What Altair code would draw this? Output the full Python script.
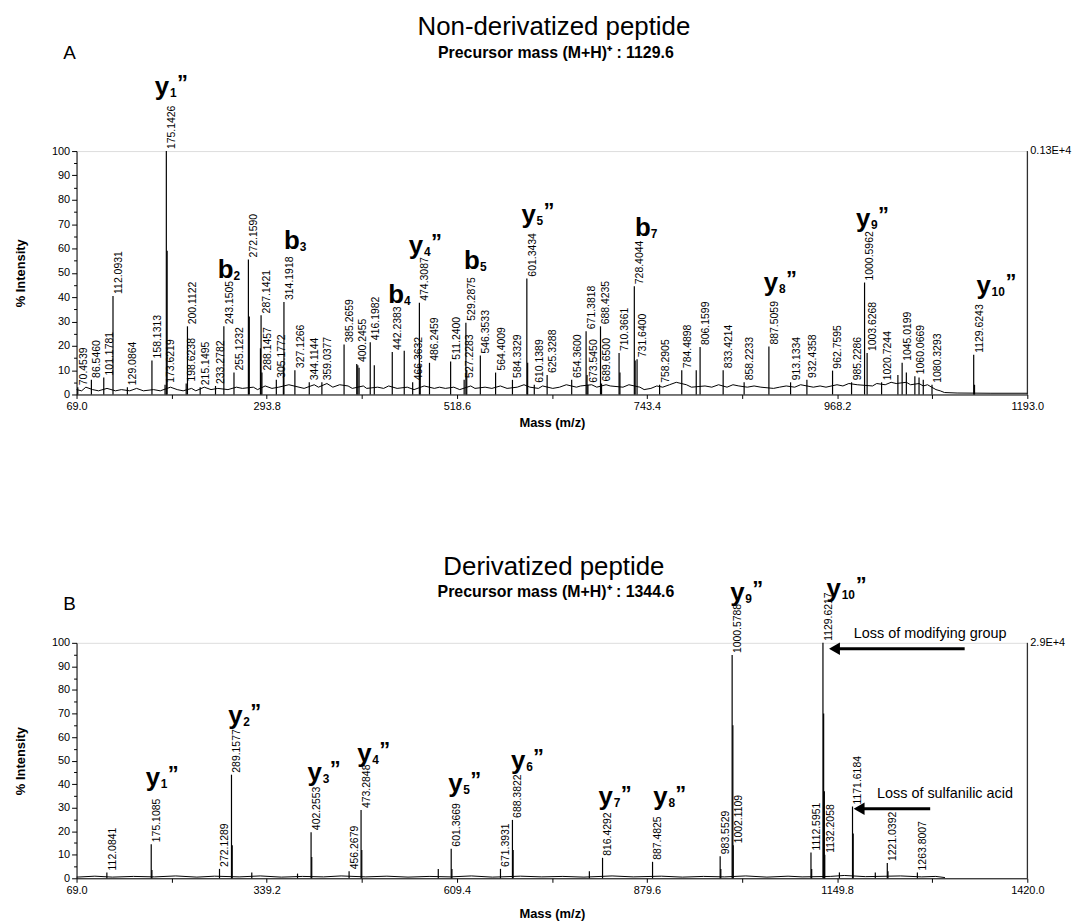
import altair as alt
import pandas as pd

FONT = "Liberation Sans"

# ---------------- Panel A (non-derivatized) ----------------
a_mass = [70.4539, 86.5460, 101.1781, 112.0931, 129.0864, 158.1313, 173.6219, 175.1426, 198.6238, 200.1122,
          215.1495, 233.2782, 243.1505, 255.1232, 272.1590, 287.1421, 288.1457, 305.1772, 314.1918, 327.1266,
          344.1144, 359.0377, 385.2659, 400.2455, 416.1982, 442.2383, 466.3632, 474.3087, 486.2459, 511.2400,
          527.2283, 529.2875, 546.3533, 564.4009, 584.3329, 601.3434, 610.1389, 625.3288, 654.3600, 671.3818,
          673.5450, 688.4235, 689.6500, 710.3661, 728.4044, 731.6400, 758.2905, 784.4898, 806.1599, 833.4214,
          858.2233, 887.5059, 913.1334, 932.4358, 962.7595, 985.2286, 1000.5962, 1003.6268, 1020.7244, 1045.0199,
          1060.0669, 1080.3293, 1129.6243]
a_int = [3, 6, 7, 40.5, 3, 14, 4, 100, 4.5, 28,
         3, 3.5, 28, 9, 55.5, 32.5, 9, 6, 38, 10,
         5, 5, 20.5, 12.5, 21.5, 17.5, 5, 37.7, 13, 13.5,
         6, 29.5, 16, 9, 6, 47.6, 4, 8, 6, 26,
         4, 28, 4.5, 17, 44.5, 14.5, 4, 10, 19.5, 10,
         5, 19.7, 5, 6, 9.8, 5, 46, 17, 5, 13,
         7.5, 4, 16.3]
a_extra_mass = [176.1, 273.2, 286.4, 313.5, 401.5, 403.0, 421.0, 456.4, 475.3, 530.3, 602.3, 672.5, 711.4,
                729.4, 801.6, 1040.0, 1050.0, 1065.0, 1070.0, 1130.6]
a_extra_int = [59, 32, 19, 12, 12, 11, 12, 18, 12, 10, 13, 8, 9, 14, 10, 8, 9, 7, 6, 4]
a_noise_mass = [69, 75, 80, 88, 95, 105, 115, 122, 132, 140, 148, 160, 168, 180, 188, 195, 205, 210, 220, 228,
                236, 248, 258, 265, 278, 283, 292, 300, 308, 320, 332, 338, 350, 355, 365, 372, 380, 390, 395,
                408, 412, 425, 432, 438, 448, 460, 468, 480, 492, 498, 505, 515, 522, 535, 540, 552, 560, 570,
                578, 590, 598, 605, 615, 620, 632, 640, 648, 660, 665, 678, 684, 695, 700, 715, 722, 735, 740,
                748, 755, 762, 770, 778, 790, 796, 812, 820, 828, 838, 845, 852, 862, 870, 878, 893, 900, 908,
                918, 925, 940, 948, 955, 968, 975, 982, 992, 1010, 1015, 1025, 1032, 1038, 1050, 1055, 1065,
                1070, 1075, 1080, 1085, 1090, 1095, 1110, 1150, 1193]
a_noise_int = [2, 1.5, 3, 2, 1.5, 2.5, 1.5, 2, 1.5, 2.5, 1.5, 2, 1.5, 3, 2, 1.5, 2.5, 1.5, 3, 2,
               2.5, 2, 3, 2.5, 3, 2, 3.5, 2.5, 3, 4, 3, 2.5, 4, 3, 4.5, 3, 4, 3.5, 2.5,
               3.5, 2.5, 3, 2.5, 3.5, 2.5, 3, 2, 3.5, 2.5, 3, 2.5, 3, 2, 3.5, 2.5, 3, 2.5, 3.5,
               2.5, 3, 4, 3, 2.5, 3.5, 2.5, 3, 4, 3, 3.5, 4, 3, 4, 3.5, 3, 4, 3, 2,
               2.5, 3.5, 3, 4, 5, 4, 3, 3.5, 3, 4, 3, 4, 3.5, 3, 3.5, 3, 2.5, 3, 3.5,
               3, 4, 3, 3.5, 3, 4, 3.5, 4.5, 4, 3.5, 4.5, 4, 5, 4.5, 5, 4, 4.5,
               3.5, 4, 3, 2, 1.5, 0.8, 0.6, 0.5, 0.5]
a_ion_letter = ["y", "b", "b", "b", "y", "b", "y", "b", "y", "y", "y"]
a_ion_sub = ["1", "2", "3", "4", "4", "5", "5", "7", "8", "9", "10"]
a_ion_mass = [170.0, 245.2, 323.5, 446.8, 470.3, 536.5, 603.4, 738.5, 890.0, 998.9, 1141.4]
a_ion_int = [126.5, 51.0, 62.9, 40.9, 60.8, 54.7, 73.6, 68.2, 45.7, 72.2, 44.5]

# ---------------- Panel B (derivatized) ----------------
b_mass = [112.0841, 175.1085, 272.1289, 289.1577, 402.2553, 456.2679, 473.2848, 601.3669, 671.3931, 688.3822,
          816.4292, 887.4825, 983.5529, 1000.5788, 1002.1109, 1112.5951, 1129.6217, 1132.2058, 1171.6184,
          1221.0392, 1263.8007]
b_int = [2.5, 14.5, 4, 44, 19.6, 3, 29, 12.6, 4, 24.8,
         8.7, 7, 9.4, 94.8, 14, 11, 100, 10, 30.5,
         6.5, 2.5]
b_extra_mass = [176.1, 290.2, 318.0, 383.0, 403.2, 474.3, 583.0, 602.4, 689.4, 797.7, 984.5, 1001.6, 1113.6,
                1130.6, 1131.6, 1172.6, 1153.0, 1204.0, 1222.0]
b_extra_int = [3.5, 14, 2.5, 2, 9, 12, 4, 4, 12, 3, 4, 65, 4, 70, 37, 19, 2.5, 2.5, 3]
b_noise_mass = [69, 95, 120, 150, 180, 210, 240, 265, 300, 330, 360, 390, 420, 445, 480, 510, 540, 570, 600,
                630, 660, 700, 730, 760, 790, 830, 860, 900, 930, 960, 990, 1020, 1050, 1080, 1100, 1140,
                1160, 1190, 1240, 1270, 1290, 1303]
b_noise_int = [0.5, 0.9, 0.5, 0.8, 0.6, 1.0, 0.5, 0.9, 0.6, 1.0, 0.5, 0.8, 0.6, 1.0, 0.6, 0.9, 0.5, 0.8, 0.6,
               1.0, 0.5, 0.9, 0.6, 0.8, 0.5, 1.0, 0.6, 0.9, 0.5, 0.8, 0.6, 1.0, 0.5, 0.9, 0.6, 0.8,
               1.2, 0.7, 1.0, 0.6, 0.8, 0.3]
b_ion_letter = ["y"] * 10
b_ion_sub = ["1", "2", "3", "4", "5", "6", "7", "8", "9", "10"]
b_ion_mass = [177.5, 294.6, 407.5, 478.0, 607.3, 696.6, 821.0, 898.7, 1008.0, 1145.0]
b_ion_int = [42.7, 68.8, 44.9, 52.7, 40.0, 49.8, 34.3, 34.3, 121.0, 123.0]

b_note_text = ["Loss of modifying group", "Loss of sulfanilic acid"]
b_note_mass = [1282, 1303]
b_note_int = [103.8, 35.9]
b_arrow_from = [1331, 1282]
b_arrow_to = [1146, 1181]
b_arrow_int = [97.5, 29.5]

W = 957


def panel(mass, inten, xm, xi, nm, ni, il, isub, imass, iint, xmin, xmax, step, height,
          title, subtitle, letter, scale_txt, title_y, sub_y, letter_y, xtitle_pad, notes=None):
    xscale = alt.Scale(domain=[xmin, xmax], nice=False, zero=False)
    yscale = alt.Scale(domain=[0, 100], nice=False)
    xticks = [round(xmin + k * step / 2, 1) for k in range(11)]
    xaxis = alt.Axis(values=xticks, format=".1f",
                     labelExpr=f"abs((datum.value - {xmin}) / {step} - round((datum.value - {xmin}) / {step})) < 0.01 ? datum.label : ''",
                     labelOverlap=False, labelFlush=False, tickSize=4, labelPadding=2,
                     labelFontSize=11, titleFontSize=13, titleFontWeight="bold", titlePadding=xtitle_pad,
                     domainColor="black", tickColor="black", labelColor="black", grid=False)
    yaxis = alt.Axis(values=list(range(0, 101, 5)), format="d",
                     labelExpr="datum.value % 10 === 0 ? datum.label : ''",
                     tickSize={"condition": {"test": "datum.value % 10 === 0", "value": 5}, "value": 3},
                     labelPadding=2, labelFontSize=11, titleFontSize=13, titleFontWeight="bold",
                     titlePadding=24, domainColor="black", tickColor="black", labelColor="black",
                     grid=False, labelOverlap=False)

    def X(f):
        return alt.X(f, scale=xscale, axis=xaxis, title="Mass (m/z)")

    def Y(f):
        return alt.Y(f, scale=yscale, axis=yaxis, title="% Intensity")

    peaks = pd.DataFrame({"m": mass, "i": inten, "lab": [f"{v:.4f}" for v in mass]})
    peaks["z"] = 0
    extra = pd.DataFrame({"m": xm, "i": xi})
    extra["z"] = 0
    noise = pd.DataFrame({"m": nm, "i": ni})
    ions = pd.DataFrame({"m": imass, "i": iint, "let": il, "sub": isub,
                         "q": ["\u201d" if l == "y" else "" for l in il],
                         "n": [len(s) for s in isub]})
    fr = pd.DataFrame({"m": [xmax], "i": [100], "z": [0], "t": [scale_txt]})

    base = alt.Chart(noise).mark_line(color="black", strokeWidth=1).encode(x=X("m:Q"), y=Y("i:Q"))
    rules = alt.Chart(peaks).mark_rule(color="black", strokeWidth=1.2).encode(
        x=X("m:Q"), y=Y("i:Q"), y2="z:Q")
    rules2 = alt.Chart(extra).mark_rule(color="black", strokeWidth=1.2).encode(
        x=X("m:Q"), y=Y("i:Q"), y2="z:Q")
    labels = alt.Chart(peaks).mark_text(angle=270, align="left", baseline="top", dx=2, dy=1,
                                        fontSize=10.5, font=FONT, color="black").encode(
        x=X("m:Q"), y=Y("i:Q"), text="lab:N")
    let = alt.Chart(ions).mark_text(fontSize=26, fontWeight="bold", font=FONT, align="center",
                                    baseline="middle", color="black").encode(
        x=X("m:Q"), y=Y("i:Q"), text="let:N")
    sub = alt.Chart(ions).mark_text(fontSize=12, fontWeight="bold", font=FONT, align="left",
                                    baseline="middle", dx=8, dy=6, color="black").encode(
        x=X("m:Q"), y=Y("i:Q"), text="sub:N")
    q1 = alt.Chart(ions).transform_filter("datum.n == 1").mark_text(
        fontSize=22, fontWeight="bold", font=FONT, align="left", baseline="middle", dx=15, dy=-4,
        color="black").encode(x=X("m:Q"), y=Y("i:Q"), text="q:N")
    q2 = alt.Chart(ions).transform_filter("datum.n == 2").mark_text(
        fontSize=22, fontWeight="bold", font=FONT, align="left", baseline="middle", dx=22, dy=-4,
        color="black").encode(x=X("m:Q"), y=Y("i:Q"), text="q:N")

    frame = alt.Chart(fr).mark_rule(color="black", strokeWidth=1).encode(
        x=X("m:Q"), y=Y("i:Q"), y2="z:Q")
    frame_txt = alt.Chart(fr).mark_text(align="left", baseline="middle", dx=3, fontSize=11,
                                        font=FONT, color="black").encode(
        x=X("m:Q"), y=Y("i:Q"), text="t:N")
    one = alt.Data(values=[{"k": 1}])
    t1 = alt.Chart(one).mark_text(fontSize=26, font=FONT, align="center", baseline="middle",
                                  color="black").encode(
        x=alt.value(W / 2 + 2), y=alt.value(title_y), text=alt.value(title))
    t2 = alt.Chart(one).mark_text(fontSize=16, fontWeight="bold", font=FONT, align="center",
                                  baseline="middle", color="black").encode(
        x=alt.value(W / 2 + 4), y=alt.value(sub_y), text=alt.value(subtitle))
    t3 = alt.Chart(one).mark_text(fontSize=19, font=FONT, align="center", baseline="middle",
                                  color="black").encode(
        x=alt.value(-7), y=alt.value(letter_y), text=alt.value(letter))

    layers = [base, rules, rules2, labels, let, sub, q1, q2, frame, frame_txt, t1, t2, t3]
    if notes is not None:
        nt = pd.DataFrame({"m": notes[1], "i": notes[2], "t": notes[0]})
        ar = pd.DataFrame({"m": notes[3], "m2": notes[4], "i": notes[5]})
        layers.append(alt.Chart(nt).mark_text(fontSize=14.5, font=FONT, align="center",
                                              baseline="middle", color="black").encode(
            x=X("m:Q"), y=Y("i:Q"), text="t:N"))
        layers.append(alt.Chart(ar).mark_rule(color="black", strokeWidth=3).encode(
            x=X("m:Q"), x2="m2:Q", y=Y("i:Q")))
        layers.append(alt.Chart(ar).mark_point(shape="triangle-left", filled=True, size=160,
                                               color="black", opacity=1).encode(
            x=X("m2:Q"), y=Y("i:Q")))
    return alt.layer(*layers).properties(width=W, height=height)


chartA = panel(a_mass, a_int, a_extra_mass, a_extra_int, a_noise_mass, a_noise_int,
               a_ion_letter, a_ion_sub, a_ion_mass, a_ion_int, 69.0, 1193.0, 224.8, 245,
               "Non-derivatized peptide", "Precursor mass (M+H)\u207a : 1129.6", "A", "0.13E+4",
               -125, -99, -99, 5)
chartB = panel(b_mass, b_int, b_extra_mass, b_extra_int, b_noise_mass, b_noise_int,
               b_ion_letter, b_ion_sub, b_ion_mass, b_ion_int, 69.0, 1420.0, 270.2, 237,
               "Derivatized peptide", "Precursor mass (M+H)\u207a : 1344.6", "B", "2.9E+4",
               -76, -51, -39, 12,
               notes=(b_note_text, b_note_mass, b_note_int, b_arrow_from, b_arrow_to, b_arrow_int))

chart = alt.vconcat(chartA, chartB, spacing=124).properties(
    padding={"top": 2, "left": 6, "right": 2, "bottom": 2}
).configure_view(stroke=None).configure(font=FONT)

chart.save("out.html", embed_options={"renderer": "svg", "actions": False})
